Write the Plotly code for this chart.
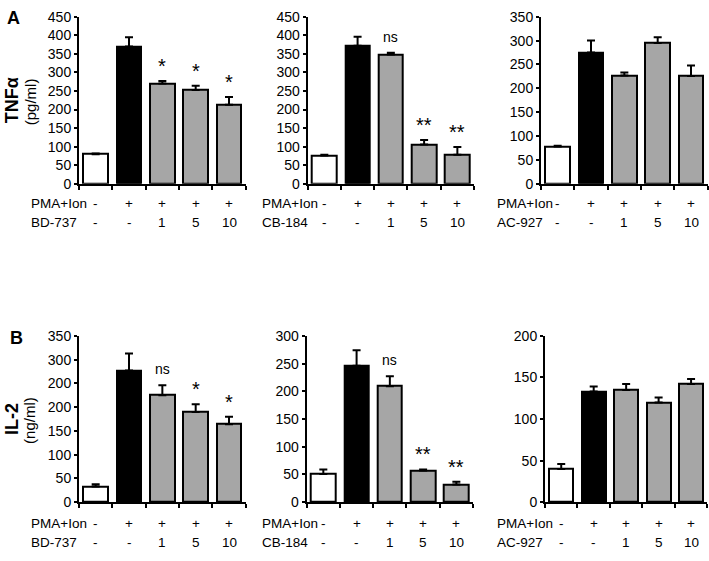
import plotly.graph_objects as go

# ---- data ----
pma_row = ["-", "+", "+", "+", "+"]
dose_row = ["-", "-", "1", "5", "10"]
drugs = ["BD-737", "CB-184", "AC-927"]

tnf_bd = [80, 370, 270, 253, 213]
tnf_bd_err = [2, 25, 7, 11, 21]
tnf_cb = [76, 372, 348, 106, 78]
tnf_cb_err = [2, 24, 5, 12, 21]
tnf_ac = [78, 275, 227, 295, 226]
tnf_ac_err = [2, 25, 6, 12, 22]

il2_bd = [33, 277, 225, 190, 164]
il2_bd_err = [5, 36, 21, 16, 16]
il2_cb = [51, 246, 209, 57, 32]
il2_cb_err = [8, 28, 18, 2, 5]
il2_ac = [40, 133, 135, 120, 142]
il2_ac_err = [6, 6, 7, 6, 6]

sig_tnf_bd = ["", "", "*", "*", "*"]
sig_tnf_cb = ["", "", "ns", "**", "**"]
sig_tnf_ac = ["", "", "", "", ""]
sig_il2_bd = ["", "", "ns", "*", "*"]
sig_il2_cb = ["", "", "ns", "**", "**"]
sig_il2_ac = ["", "", "", "", ""]

ymax = [450, 450, 350, 350, 300, 200]
# bottom-left panel tick labels as printed in the original
bl_ticktext = ["0", "50", "100", "150", "200", "200", "300", "350"]

bar_colors = ["white", "black", "#a6a6a6", "#a6a6a6", "#a6a6a6"]

W, H = 709, 561
FONT = "Liberation Sans, Arial, sans-serif"
TS = 14  # tick text size
RS = 13.5  # row label size

panels = [
    dict(vals=tnf_bd, err=tnf_bd_err, sig=sig_tnf_bd, drug=drugs[0], x0=79, x1=245.7, y0=181, y1=9, lblx=29),
    dict(vals=tnf_cb, err=tnf_cb_err, sig=sig_tnf_cb, drug=drugs[1], x0=307.7, x1=474, y0=181, y1=9, lblx=260),
    dict(vals=tnf_ac, err=tnf_ac_err, sig=sig_tnf_ac, drug=drugs[2], x0=541, x1=707.7, y0=181, y1=9, lblx=495),
    dict(vals=il2_bd, err=il2_bd_err, sig=sig_il2_bd, drug=drugs[0], x0=79, x1=245.7, y0=508.7, y1=337.5, lblx=29),
    dict(vals=il2_cb, err=il2_cb_err, sig=sig_il2_cb, drug=drugs[1], x0=306.7, x1=473, y0=508.7, y1=337.5, lblx=260),
    dict(vals=il2_ac, err=il2_ac_err, sig=sig_il2_ac, drug=drugs[2], x0=545, x1=707.3, y0=508.7, y1=337.5, lblx=495),
]

fig = go.Figure()
annotations = []
layout = {}
xpos = [0.5, 1.5, 2.5, 3.5, 4.5]

for i, p in enumerate(panels):
    n = "" if i == 0 else str(i + 1)
    xa, ya = "x" + n, "y" + n
    fig.add_trace(go.Bar(
        x=xpos, y=p["vals"], width=0.74,
        marker=dict(color=bar_colors, line=dict(color="black", width=2)),
        error_y=dict(type="data", array=p["err"], arrayminus=[0] * 5, symmetric=False,
                     color="black", thickness=2, width=4),
        xaxis=xa, yaxis=ya, showlegend=False, hoverinfo="skip",
    ))
    tickvals = list(range(0, ymax[i] + 1, 50))
    ticktext = bl_ticktext if i == 3 else [str(v) for v in tickvals]
    layout["xaxis" + n] = dict(
        domain=[p["x0"] / W, p["x1"] / W], range=[0, 5], anchor=ya,
        tickvals=[0, 1, 2, 3, 4, 5], showticklabels=False, ticks="outside",
        ticklen=4, tickwidth=2, tickcolor="black", showline=True, linewidth=2,
        linecolor="black", showgrid=False, zeroline=False, fixedrange=True,
    )
    layout["yaxis" + n] = dict(
        domain=[1 - p["y0"] / H, 1 - p["y1"] / H], range=[0, ymax[i]], anchor=xa,
        tickvals=tickvals, ticktext=ticktext, ticks="outside", ticklen=3, tickwidth=2,
        tickcolor="black", showline=True, linewidth=2, linecolor="black",
        showgrid=False, zeroline=False, tickfont=dict(size=TS, color="black", family=FONT),
        ticklabelstandoff=0, fixedrange=True,
    )
    # significance labels
    for j, s in enumerate(p["sig"]):
        if s:
            top = p["vals"][j] + p["err"][j]
            annotations.append(dict(
                x=xpos[j], y=top, xref=xa, yref=ya, text=s, showarrow=False,
                yanchor="bottom", yshift=(6 if s == "ns" else 2),
                font=dict(size=(14 if s == "ns" else 20), color="black", family=FONT),
            ))
    # treatment rows
    if i < 3:
        r1, r2 = 201.7, 221
    else:
        r1, r2 = 530.7, 550
    annotations.append(dict(x=p["lblx"] / W, y=1 - r1 / H, xref="paper", yref="paper",
                            text="PMA+Ion", showarrow=False, xanchor="left", yanchor="middle",
                            font=dict(size=RS, color="black", family=FONT)))
    annotations.append(dict(x=p["lblx"] / W, y=1 - r2 / H, xref="paper", yref="paper",
                            text=p["drug"], showarrow=False, xanchor="left", yanchor="middle",
                            font=dict(size=RS, color="black", family=FONT)))
    for j in range(5):
        annotations.append(dict(x=xpos[j], y=1 - r1 / H, xref=xa, yref="paper", text=pma_row[j],
                                showarrow=False, yanchor="middle",
                                font=dict(size=RS, color="black", family=FONT)))
        annotations.append(dict(x=xpos[j], y=1 - r2 / H, xref=xa, yref="paper", text=dose_row[j],
                                showarrow=False, yanchor="middle",
                                font=dict(size=RS, color="black", family=FONT)))

# panel letters and y titles
def lab(x, y, text, size, angle=0):
    return dict(x=x / W, y=1 - y / H, xref="paper", yref="paper", text=text, showarrow=False,
                xanchor="center", yanchor="middle", textangle=angle,
                font=dict(size=size, color="black", family=FONT))

annotations += [
    lab(13.5, 10, "<b>A</b>", 18),
    lab(16, 340, "<b>B</b>", 18),
    lab(12, 95, "<b>TNFα</b>", 18, -90),
    lab(30, 96, "(pg/ml)", 15, -90),
    lab(12, 423, "<b>IL-2</b>", 18, -90),
    lab(30, 424, "(ng/ml)", 15, -90),
]

fig.update_layout(
    width=W, height=H, margin=dict(l=0, r=0, t=0, b=0),
    paper_bgcolor="white", plot_bgcolor="white", annotations=annotations,
    font=dict(family=FONT, color="black"), bargap=0, hovermode=False, **layout,
)

fig.write_html("out.html", config={"displayModeBar": False},
               post_script="document.body.style.margin='0';document.body.style.overflow='hidden';")
